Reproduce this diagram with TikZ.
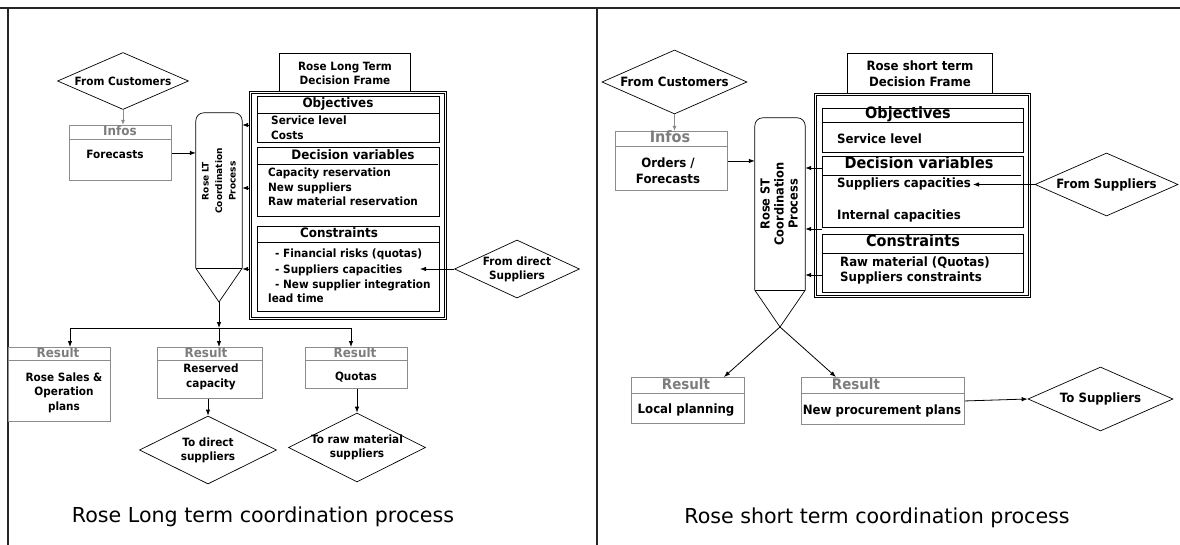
\documentclass[tikz,border=0pt]{standalone}
\usepackage{fontspec}
\setmainfont{DejaVu Sans}
\newfontfamily\boxfam{DejaVu Sans}[FakeStretch=0.92]
\usetikzlibrary{shapes.geometric,arrows.meta}

\definecolor{infogray}{RGB}{140,140,140}
\definecolor{headgray}{RGB}{125,125,125}

\newcommand{\ltfont}{\boxfam\fontsize{11.4}{14}\selectfont\bfseries}
\newcommand{\lthead}{\boxfam\fontsize{13}{14}\selectfont\bfseries}
\newcommand{\stfont}{\boxfam\fontsize{12.8}{15}\selectfont\bfseries}
\newcommand{\sthead}{\boxfam\fontsize{15.7}{16}\selectfont\bfseries}
\newcommand{\capfont}{\fontsize{20.6}{24}\selectfont}

\tikzset{
  box/.style={draw, inner sep=0pt, line width=0.7pt},
  resbox/.style={draw=infogray, inner sep=0pt, line width=0.9pt},
  resline/.style={draw=infogray, line width=0.9pt},
  frame/.style={draw, double, double distance=1.3pt, line width=0.6pt, inner sep=0pt},
  diam/.style={draw, diamond, aspect=2.2, inner sep=-4pt, line width=0.7pt, align=center},
  txt/.style={inner sep=0pt, text height=10pt, text depth=2pt},
  arr/.style={line width=0.8pt, -{Latex[length=6pt,width=4.5pt]}},
  grayarr/.style={draw=infogray, line width=0.9pt, -{Latex[length=5pt,width=4pt]}, infogray}
}

\begin{document}
\begin{tikzpicture}[x=1pt, y=-1pt]
\useasboundingbox (0,0) rectangle (1180,545);
% panel rules
\draw[line width=1.6pt, black!85] (0,8) -- (1180,8);
\draw[line width=1.6pt, black!85] (8,8) -- (8,545);
\draw[line width=1.6pt, black!85] (597,8) -- (597,545);

% ---------- long term ----------
\node[diam, font=\ltfont, minimum width=131pt, minimum height=57pt] (lcust) at (123,81) {From Customers};
\node[resbox, anchor=north west, minimum width=102pt, minimum height=55pt] (linfo) at (69,125) {};
\draw[resline] ([yshift=-14pt]linfo.north west) -- ([yshift=-14pt]linfo.north east);
\node[txt, font=\lthead, headgray] at (120,132) {Infos};
\node[txt, font=\ltfont] at (115,155) {Forecasts};
\draw[grayarr] (lcust.south) -- (lcust.south |- linfo.north);

% coordination process
\node[minimum width=46pt, minimum height=155pt, inner sep=0pt] (ltp) at (219,190.5) {};
\coordinate (ltapex) at (219,302);
\draw[line width=0.7pt, rounded corners=8pt] (ltp.south west) -- (ltp.north west) -- (ltp.north east) -- (ltp.south east);
\draw[line width=0.7pt] (ltp.south west) -- (ltp.south east);
\draw[line width=0.7pt] (ltp.south west) -- (ltapex) -- (ltp.south east);
\node[rotate=90, align=center, font=\fontsize{9}{13.5}\selectfont\bfseries] at (219,181) {Rose LT\\Coordination\\Process};
\draw[arr] (linfo.east) -- (linfo.east -| ltp.west);

% decision frame
\node[box, anchor=south west, minimum width=131pt, minimum height=38pt] (ltftitle) at (279,92) {};
\node[txt, font=\ltfont] at (345,67) {Rose Long Term};
\node[txt, font=\ltfont] at (345,81) {Decision Frame};
\node[frame, anchor=north west, minimum width=195pt, minimum height=226pt] (ltframe) at (250,92) {};

\node[box, anchor=north west, minimum width=182pt, minimum height=46pt] (ltobj) at (257,96) {};
\draw[line width=0.7pt] ([yshift=-17pt]ltobj.north west) -- ([yshift=-17pt]ltobj.north east);
\node[txt, font=\lthead] at (338,104) {Objectives};
\node[txt, font=\ltfont, anchor=west] at (271,121) {Service level};
\node[txt, font=\ltfont, anchor=west] at (271,136) {Costs};

\node[box, anchor=north west, minimum width=182pt, minimum height=69pt] (ltvar) at (257,147) {};
\draw[line width=0.7pt] ([yshift=-17pt]ltvar.north west) -- ([yshift=-17pt,xshift=-2pt]ltvar.north east);
\node[txt, font=\lthead] at (353,156) {Decision variables};
\node[txt, font=\ltfont, anchor=west] at (268,173) {Capacity reservation};
\node[txt, font=\ltfont, anchor=west] at (268,188) {New suppliers};
\node[txt, font=\ltfont, anchor=west] at (268,202) {Raw material reservation};

\node[box, anchor=north west, minimum width=182pt, minimum height=85pt] (ltcon) at (257,226) {};
\draw[line width=0.7pt] ([yshift=-16pt]ltcon.north west) -- ([yshift=-16pt]ltcon.north east);
\node[txt, font=\lthead] at (339,234) {Constraints};
\node[txt, font=\ltfont, anchor=west] at (275,254) {- Financial risks (quotas)};
\node[txt, font=\ltfont, anchor=west] at (275,269) {- Suppliers capacities};
\node[txt, font=\ltfont, anchor=west] at (275,284) {- New supplier integration};
\node[txt, font=\ltfont, anchor=west] at (268,298) {lead time};

\foreach \yy in {125,188,269}
  \draw[arr] (ltframe.west |- 0,\yy) -- (ltp.east |- 0,\yy);

\node[diam, font=\ltfont, minimum width=125pt, minimum height=58pt] (ltdsup) at (517,269) {From direct\\Suppliers};
\coordinate (ltsupcap) at (420,269);
\draw[arr] (ltdsup.west) -- (ltsupcap);

% results
\coordinate (ltjoin) at (219,328);
\coordinate (ltleft) at (70,328);
\coordinate (ltright) at (351,328);
\draw[arr] (ltapex) -- (ltjoin);
\draw[line width=0.8pt] (ltleft) -- (ltright);
\node[resbox, anchor=north west, minimum width=102pt, minimum height=74pt] (lres1) at (8,347) {};
\node[resbox, anchor=north west, minimum width=105pt, minimum height=51pt] (lres2) at (157,347) {};
\node[resbox, anchor=north west, minimum width=102pt, minimum height=41pt] (lres3) at (305,347) {};
\draw[arr] (ltleft) -- (ltleft |- lres1.north);
\draw[arr] (ltjoin) -- (ltjoin |- lres2.north);
\draw[arr] (ltright) -- (ltright |- lres3.north);
\foreach \r in {lres1,lres2,lres3}
  \draw[resline] ([yshift=-13pt]\r.north west) -- ([yshift=-13pt]\r.north east);
\node[txt, font=\lthead, headgray] at (58,353) {Result};
\node[txt, font=\lthead, headgray] at (206,353) {Result};
\node[txt, font=\lthead, headgray] at (355,353) {Result};
\node[txt, font=\ltfont] at (64,377) {Rose Sales \&};
\node[txt, font=\ltfont] at (64,391) {Operation};
\node[txt, font=\ltfont] at (64,406) {plans};
\node[txt, font=\ltfont] at (211,368) {Reserved};
\node[txt, font=\ltfont] at (211,383) {capacity};
\node[txt, font=\ltfont] at (356,376) {Quotas};

\node[diam, font=\ltfont, minimum width=137pt, minimum height=68pt] (ltds) at (208,450) {To direct\\suppliers};
\node[diam, font=\ltfont, minimum width=137pt, minimum height=69pt] (ltrm) at (357,447.5) {To raw material\\suppliers};
\draw[arr] (ltds.north |- lres2.south) -- (ltds.north);
\draw[arr] (ltrm.north |- lres3.south) -- (ltrm.north);

\node[font=\capfont] (ltcap) at (263,517) {Rose Long term coordination process};

% ---------- short term ----------
\node[diam, font=\stfont, minimum width=145pt, minimum height=64pt] (scust) at (674.5,82) {From Customers};
\node[resbox, anchor=north west, minimum width=112pt, minimum height=59pt] (sinfo) at (615,131) {};
\draw[resline] ([yshift=-15pt]sinfo.north west) -- ([yshift=-15pt]sinfo.north east);
\node[txt, font=\sthead, headgray] at (670,139) {Infos};
\node[txt, font=\stfont] at (668,164) {Orders /};
\node[txt, font=\stfont] at (668,180) {Forecasts};
\draw[grayarr] (scust.south) -- (scust.south |- sinfo.north);

% coordination process
\node[minimum width=50pt, minimum height=172pt, inner sep=0pt] (stp) at (780,204) {};
\coordinate (stapex) at (780,327);
\draw[line width=0.7pt, rounded corners=8pt] (stp.south west) -- (stp.north west) -- (stp.north east) -- (stp.south east);
\draw[line width=0.7pt] (stp.south west) -- (stp.south east);
\draw[line width=0.7pt] (stp.south west) -- (stapex) -- (stp.south east);
\node[rotate=90, align=center, font=\boxfam\fontsize{12.4}{14}\selectfont\bfseries] at (779,204) {Rose ST\\Coordination\\Process};
\draw[arr] (sinfo.east) -- (sinfo.east -| stp.west);

% decision frame
\node[box, anchor=south west, minimum width=145pt, minimum height=40pt] (stftitle) at (847,94) {};
\node[txt, font=\stfont] at (920,67) {Rose short term};
\node[txt, font=\stfont] at (920,83) {Decision Frame};
\node[frame, anchor=north west, minimum width=214pt, minimum height=202pt] (stframe) at (815,94) {};

\node[box, anchor=north west, minimum width=201pt, minimum height=44pt] (stobj) at (822,108) {};
\draw[line width=0.7pt] ([yshift=-14pt]stobj.north west) -- ([yshift=-14pt]stobj.north east);
\node[txt, font=\sthead] at (908,115) {Objectives};
\node[txt, font=\stfont, anchor=west] at (837,140) {Service level};

\node[box, anchor=north west, minimum width=201pt, minimum height=71pt] (stvar) at (822,156) {};
\draw[line width=0.7pt] ([yshift=-19pt]stvar.north west) -- ([yshift=-19pt,xshift=-3pt]stvar.north east);
\node[txt, font=\sthead] at (919,165) {Decision variables};
\node[txt, font=\stfont, anchor=west] at (837,184) {Suppliers capacities};
\node[txt, font=\stfont, anchor=west] at (837,216) {Internal capacities};

\node[box, anchor=north west, minimum width=201pt, minimum height=58pt] (stcon) at (822,234) {};
\draw[line width=0.7pt] ([yshift=-19pt]stcon.north west) -- ([yshift=-19pt]stcon.north east);
\node[txt, font=\sthead] at (913,243) {Constraints};
\node[txt, font=\stfont, anchor=west] at (840,262) {Raw material (Quotas)};
\node[txt, font=\stfont, anchor=west] at (840,277) {Suppliers constraints};

\draw[arr] (stvar.west |- 0,168) -- (stp.east |- 0,168);
\draw[arr] (stvar.west |- 0,229) -- (stp.east |- 0,229);
\draw[arr] (stcon.west |- 0,275) -- (stp.east |- 0,275);

\node[diam, font=\stfont, minimum width=143pt, minimum height=63pt] (stsup) at (1106.5,184.5) {From Suppliers};
\coordinate (stsupcap) at (973,184.5);
\draw[arr] (stsup.west) -- (stsupcap);

% results
\node[resbox, anchor=north west, minimum width=113pt, minimum height=46pt] (sres1) at (631,377) {};
\node[resbox, anchor=north west, minimum width=163pt, minimum height=47pt] (sres2) at (801,377) {};
\foreach \r in {sres1,sres2}
  \draw[resline] ([yshift=-16pt]\r.north west) -- ([yshift=-16pt]\r.north east);
\node[txt, font=\boxfam\fontsize{14.6}{16}\selectfont\bfseries, headgray] at (686,385) {Result};
\node[txt, font=\boxfam\fontsize{14.6}{16}\selectfont\bfseries, headgray] at (856,385) {Result};
\node[txt, font=\stfont] at (686,409) {Local planning};
\node[txt, font=\stfont] at (882,410) {New procurement plans};
\draw[arr] (stapex) -- ([xshift=36pt]sres1.north);
\draw[arr] (stapex) -- ([xshift=-47pt]sres2.north);

\node[diam, font=\stfont, minimum width=145pt, minimum height=64pt] (sttsup) at (1100.5,399) {To Suppliers};
\draw[arr] (sres2.east) -- (sttsup.west);

\node[font=\capfont] (stcap) at (877,518) {Rose short term coordination process};
\end{tikzpicture}
\end{document}
